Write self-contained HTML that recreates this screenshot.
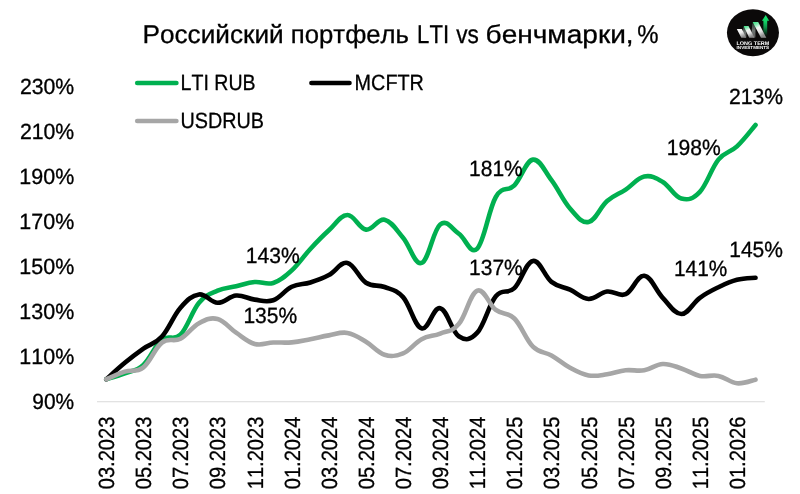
<!DOCTYPE html>
<html lang="ru"><head><meta charset="utf-8"><title>Российский портфель LTI vs бенчмарки, %</title>
<style>
html,body{margin:0;padding:0;background:#fff;}
body{width:800px;height:494px;overflow:hidden;}
svg{display:block;}
text{font-family:"Liberation Sans", "DejaVu Sans", sans-serif;font-kerning:none;text-rendering:geometricPrecision;stroke:#000;stroke-width:0.3px;}
#logo text{stroke:none;}
</style></head><body>
<svg width="800" height="494" viewBox="0 0 800 494">
<rect width="800" height="494" fill="#fff"/>
<line x1="97" y1="401.75" x2="764.8" y2="401.75" stroke="#d9d9d9" stroke-width="1"/>
<g id="series" fill="none" stroke-width="4.6" stroke-linecap="round" stroke-linejoin="round">
<path stroke="#00b050" d="M106.28 379.25C109.80 378.14 117.78 376.14 124.83 373.40C131.87 370.66 136.33 371.26 143.38 364.85C150.42 358.44 154.88 345.38 161.93 339.65C168.97 333.92 173.43 341.71 180.48 334.70C187.52 327.69 191.98 311.13 199.03 302.75C206.07 294.37 210.53 293.72 217.57 290.60C224.62 287.48 229.08 287.95 236.12 286.32C243.17 284.70 247.63 282.69 254.68 282.05C261.72 281.41 266.18 285.17 273.23 282.95C280.27 280.73 284.73 276.81 291.77 270.35C298.82 263.89 303.28 256.58 310.33 248.97C317.37 241.37 321.83 236.76 328.88 230.30C335.92 223.84 340.38 215.13 347.43 215.00C354.47 214.87 358.93 228.73 365.98 229.62C373.02 230.52 377.48 218.19 384.53 219.72C391.57 221.26 396.03 229.52 403.07 237.72C410.12 245.93 414.58 265.45 421.62 262.93C428.67 260.40 433.13 230.01 440.18 224.45C447.22 218.89 451.68 229.10 458.73 233.68C465.77 238.25 470.23 255.49 477.28 248.53C484.32 241.56 488.78 209.01 495.82 197.00C502.87 184.99 507.33 192.40 514.38 185.30C521.42 178.20 525.88 160.63 532.92 159.65C539.97 158.67 544.43 170.85 551.48 180.12C558.52 189.40 562.98 200.52 570.03 208.47C577.07 216.43 581.53 223.39 588.58 221.97C595.62 220.56 600.08 207.21 607.12 201.05C614.17 194.89 618.63 194.23 625.68 189.57C632.72 184.92 637.18 177.98 644.23 176.53C651.27 175.07 655.73 177.74 662.77 181.93C669.82 186.11 674.28 196.69 681.33 198.57C688.37 200.46 692.83 199.22 699.88 191.82C706.92 184.43 711.38 168.29 718.43 159.65C725.47 151.01 729.93 152.96 736.98 146.38C744.02 139.79 752.00 129.06 755.52 125.00"/>
<path stroke="#000" d="M106.28 379.25C109.80 376.13 117.78 368.64 124.83 362.82C131.87 357.01 136.33 353.65 143.38 348.65C150.42 343.65 154.88 344.28 161.93 336.50C168.97 328.72 173.43 315.69 180.48 307.70C187.52 299.71 191.98 295.37 199.03 294.43C206.07 293.48 210.53 302.54 217.57 302.75C224.62 302.96 229.08 296.15 236.12 295.55C243.17 294.95 247.63 298.70 254.68 299.60C261.72 300.50 266.18 302.71 273.23 300.27C280.27 297.84 284.73 290.15 291.77 286.77C298.82 283.40 303.28 284.72 310.33 282.50C317.37 280.28 321.83 278.79 328.88 275.07C335.92 271.36 340.38 261.47 347.43 262.93C354.47 264.38 358.93 278.15 365.98 282.73C373.02 287.30 377.48 284.26 384.53 287.00C391.57 289.74 396.03 289.26 403.07 297.12C410.12 304.99 414.58 326.31 421.62 328.40C428.67 330.49 433.13 306.65 440.18 308.15C447.22 309.65 451.68 331.62 458.73 336.27C465.77 340.93 470.23 340.28 477.28 332.68C484.32 325.07 488.78 304.69 495.82 296.23C502.87 287.76 507.33 294.84 514.38 288.12C521.42 281.41 525.88 262.10 532.92 260.90C539.97 259.70 544.43 276.35 551.48 281.82C558.52 287.30 562.98 286.45 570.03 289.70C577.07 292.95 581.53 298.58 588.58 298.93C595.62 299.27 600.08 292.40 607.12 291.50C614.17 290.60 618.63 297.19 625.68 294.20C632.72 291.21 637.18 275.07 644.23 275.75C651.27 276.43 655.73 290.53 662.77 297.80C669.82 305.07 674.28 314.00 681.33 314.00C688.37 314.00 692.83 302.89 699.88 297.80C706.92 292.71 711.38 290.65 718.43 287.23C725.47 283.81 729.93 281.60 736.98 279.80C744.02 278.00 752.00 278.16 755.52 277.77"/>
<path stroke="#a6a6a6" d="M106.28 379.25C109.80 377.80 117.78 373.87 124.83 371.60C131.87 369.33 136.33 372.84 143.38 367.32C150.42 361.81 154.88 348.00 161.93 342.57C168.97 337.15 173.43 342.43 180.48 338.75C187.52 335.07 191.98 326.99 199.03 323.23C206.07 319.46 210.53 317.15 217.57 318.95C224.62 320.75 229.08 327.93 236.12 332.68C243.17 337.42 247.63 342.04 254.68 343.93C261.72 345.81 266.18 342.87 273.23 342.57C280.27 342.28 284.73 342.99 291.77 342.35C298.82 341.71 303.28 340.53 310.33 339.20C317.37 337.87 321.83 336.57 328.88 335.38C335.92 334.18 340.38 331.70 347.43 332.90C354.47 334.10 358.93 337.53 365.98 341.68C373.02 345.82 377.48 352.50 384.53 354.72C391.57 356.95 396.03 356.32 403.07 353.38C410.12 350.43 414.58 342.96 421.62 339.20C428.67 335.44 433.13 336.44 440.18 333.57C447.22 330.71 451.68 332.29 458.73 324.12C465.77 315.96 470.23 293.29 477.28 290.60C484.32 287.91 488.78 304.65 495.82 309.95C502.87 315.25 507.33 311.53 514.38 318.50C521.42 325.47 525.88 339.61 532.92 346.62C539.97 353.64 544.43 351.38 551.48 355.40C558.52 359.42 562.98 363.97 570.03 367.78C577.07 371.58 581.53 374.19 588.58 375.43C595.62 376.66 600.08 375.28 607.12 374.30C614.17 373.32 618.63 371.02 625.68 370.25C632.72 369.48 637.18 371.45 644.23 370.25C651.27 369.05 655.73 364.29 662.77 363.95C669.82 363.61 674.28 366.18 681.33 368.45C688.37 370.72 692.83 374.46 699.88 375.88C706.92 377.29 711.38 374.46 718.43 375.88C725.47 377.29 729.93 382.57 736.98 383.30C744.02 384.03 752.00 380.38 755.52 379.70"/>
<line x1="137.2" y1="83" x2="176.4" y2="83" stroke="#00b050"/>
<line x1="311.4" y1="83" x2="349.5" y2="83" stroke="#000"/>
<line x1="137.2" y1="121.0" x2="176.4" y2="121.0" stroke="#a6a6a6"/>
</g>
<g id="title"><text transform="translate(142.45 43.00) scale(1.0196 1)" font-size="25.70" fill="#000">Российский</text><text transform="translate(290.82 43.00) scale(1.0012 1)" font-size="25.70" fill="#000">портфель</text><text transform="translate(417.09 43.00) scale(0.8606 1)" font-size="25.70" fill="#000">LTI</text><text transform="translate(456.22 43.00) scale(0.8791 1)" font-size="25.70" fill="#000">vs</text><text transform="translate(485.55 43.00) scale(1.0928 1)" font-size="25.70" fill="#000">бенчмарки,</text><text transform="translate(637.35 43.00) scale(0.9325 1)" font-size="25.70" fill="#000">%</text></g>
<g id="yaxis"><text transform="translate(32.32 408.75) scale(0.9522 1)" font-size="22.00" fill="#000">90%</text><text transform="translate(19.36 363.75) scale(0.9757 1)" font-size="22.00" fill="#000">110%</text><text transform="translate(19.36 318.75) scale(0.9757 1)" font-size="22.00" fill="#000">130%</text><text transform="translate(19.36 273.75) scale(0.9757 1)" font-size="22.00" fill="#000">150%</text><text transform="translate(19.36 228.75) scale(0.9757 1)" font-size="22.00" fill="#000">170%</text><text transform="translate(19.36 183.75) scale(0.9757 1)" font-size="22.00" fill="#000">190%</text><text transform="translate(19.93 138.75) scale(0.9655 1)" font-size="22.00" fill="#000">210%</text><text transform="translate(19.93 93.75) scale(0.9655 1)" font-size="22.00" fill="#000">230%</text></g>
<g id="xaxis"><text transform="translate(114.10 489.29) rotate(-90) scale(0.9138 1)" font-size="22.00" fill="#000">03.2023</text><text transform="translate(151.21 489.29) rotate(-90) scale(0.9138 1)" font-size="22.00" fill="#000">05.2023</text><text transform="translate(188.33 489.29) rotate(-90) scale(0.9138 1)" font-size="22.00" fill="#000">07.2023</text><text transform="translate(225.44 489.29) rotate(-90) scale(0.9138 1)" font-size="22.00" fill="#000">09.2023</text><text transform="translate(262.56 489.29) rotate(-90) scale(0.9138 1)" font-size="22.00" fill="#000">11.2023</text><text transform="translate(299.67 489.29) rotate(-90) scale(0.9138 1)" font-size="22.00" fill="#000">01.2024</text><text transform="translate(336.78 489.29) rotate(-90) scale(0.9138 1)" font-size="22.00" fill="#000">03.2024</text><text transform="translate(373.90 489.29) rotate(-90) scale(0.9138 1)" font-size="22.00" fill="#000">05.2024</text><text transform="translate(411.01 489.29) rotate(-90) scale(0.9138 1)" font-size="22.00" fill="#000">07.2024</text><text transform="translate(448.13 489.29) rotate(-90) scale(0.9138 1)" font-size="22.00" fill="#000">09.2024</text><text transform="translate(485.24 489.29) rotate(-90) scale(0.9138 1)" font-size="22.00" fill="#000">11.2024</text><text transform="translate(522.35 489.29) rotate(-90) scale(0.9138 1)" font-size="22.00" fill="#000">01.2025</text><text transform="translate(559.47 489.29) rotate(-90) scale(0.9138 1)" font-size="22.00" fill="#000">03.2025</text><text transform="translate(596.58 489.29) rotate(-90) scale(0.9138 1)" font-size="22.00" fill="#000">05.2025</text><text transform="translate(633.70 489.29) rotate(-90) scale(0.9138 1)" font-size="22.00" fill="#000">07.2025</text><text transform="translate(670.81 489.29) rotate(-90) scale(0.9138 1)" font-size="22.00" fill="#000">09.2025</text><text transform="translate(707.92 489.29) rotate(-90) scale(0.9138 1)" font-size="22.00" fill="#000">11.2025</text><text transform="translate(745.04 489.29) rotate(-90) scale(0.9138 1)" font-size="22.00" fill="#000">01.2026</text></g>
<g id="legend"><text transform="translate(180.60 90.00) scale(0.8884 1)" font-size="22.00" fill="#000">LTI RUB</text><text transform="translate(180.47 128.00) scale(0.8996 1)" font-size="22.00" fill="#000">USDRUB</text><text transform="translate(354.57 90.00) scale(0.9008 1)" font-size="22.00" fill="#000">MCFTR</text></g>
<g id="labels"><text transform="translate(245.79 262.80) scale(0.9590 1)" font-size="22.00" fill="#000">143%</text><text transform="translate(243.40 322.60) scale(0.9571 1)" font-size="22.00" fill="#000">135%</text><text transform="translate(469.00 175.50) scale(0.9553 1)" font-size="22.00" fill="#000">181%</text><text transform="translate(469.00 275.40) scale(0.9553 1)" font-size="22.00" fill="#000">137%</text><text transform="translate(666.79 154.50) scale(0.9590 1)" font-size="22.00" fill="#000">198%</text><text transform="translate(674.01 276.40) scale(0.9460 1)" font-size="22.00" fill="#000">141%</text><text transform="translate(728.94 104.10) scale(0.9618 1)" font-size="22.00" fill="#000">213%</text><text transform="translate(729.20 256.90) scale(0.9553 1)" font-size="22.00" fill="#000">145%</text></g>
<g id="logo">
<defs>
<linearGradient id="gw" x1="0" y1="0" x2="0.45" y2="1"><stop offset="0" stop-color="#ffffff"/><stop offset="0.5" stop-color="#ededed"/><stop offset="1" stop-color="#8c8c8c"/></linearGradient>
<linearGradient id="gg" x1="0" y1="0" x2="0.45" y2="1"><stop offset="0" stop-color="#2fe07c"/><stop offset="0.22" stop-color="#7fe9ae"/><stop offset="0.45" stop-color="#f4f7f5"/><stop offset="0.7" stop-color="#e4e4e4"/><stop offset="1" stop-color="#8c8c8c"/></linearGradient>
<linearGradient id="gd" x1="0" y1="0" x2="0" y2="1"><stop offset="0" stop-color="#2c3a33"/><stop offset="0.5" stop-color="#6d7370"/><stop offset="1" stop-color="#5a5a5a"/></linearGradient>
<linearGradient id="ga" gradientUnits="userSpaceOnUse" x1="0" y1="15" x2="0" y2="36"><stop offset="0" stop-color="#19e673"/><stop offset="0.3" stop-color="#14d367"/><stop offset="0.6" stop-color="#0c8f47"/><stop offset="0.85" stop-color="#083a1f"/><stop offset="1" stop-color="#0b0909"/></linearGradient>
</defs>
<ellipse cx="752.95" cy="32.7" rx="26" ry="23.5" fill="#0b0909"/>
<polygon points="765.7,15.0 769.2,20.8 767.2,20.8 767.2,36 763.4,36 763.4,20.8 761.9,20.8" fill="url(#ga)"/>
<polygon points="743.2,27.0 746.4,27.0 746.4,37.5 744.4,37.5 742.6,33" fill="url(#gd)"/>
<polygon points="752.2,23.5 755.6,23.5 755.4,37.5 753.2,37.5 751.6,33" fill="url(#gd)"/>
<polygon points="736.8,29.0 741.9,29.0 746.2,37.8 741.3,37.8" fill="url(#gw)"/>
<polygon points="743.6,26.0 748.5,26.0 754.5,37.8 749.2,37.8" fill="url(#gg)"/>
<polygon points="752.6,22.1 758.2,22.1 766.3,37.8 761.0,37.8" fill="url(#gg)"/>
<text transform="translate(736.53 44.80) scale(1.0524 1)" font-size="5.20" font-weight="bold" fill="#fff">LONG TERM</text>
<text transform="translate(736.59 49.40) scale(1.0182 1)" font-size="4.50" font-weight="bold" fill="#fff">INVESTMENTS</text>
</g>
</svg>
</body></html>
